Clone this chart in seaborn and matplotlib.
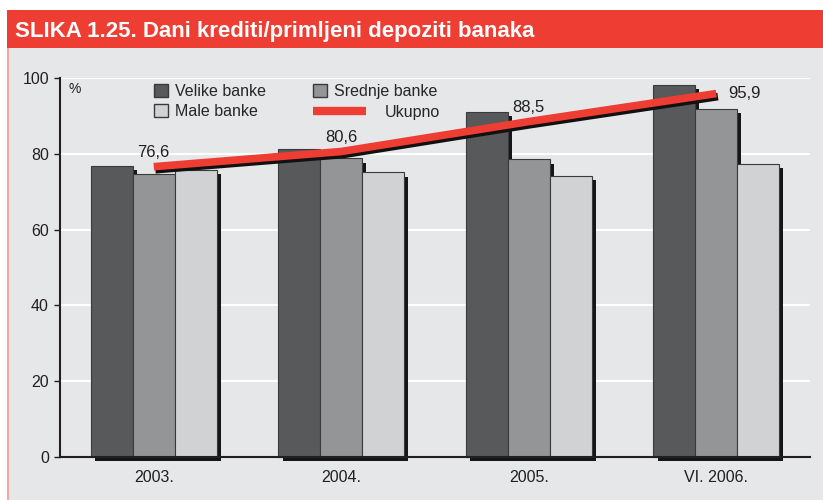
import numpy as np
import pandas as pd
import matplotlib.pyplot as plt
import matplotlib.patheffects as pe
from matplotlib.patches import Patch, Rectangle
from matplotlib.lines import Line2D
import seaborn as sns

# podaci
godine = ['2003.', '2004.', '2005.', 'VI. 2006.']
velike = [76.8, 81.2, 91.1, 98.2]
srednje = [74.7, 78.8, 78.5, 91.8]
male = [75.7, 75.1, 74.1, 77.4]
ukupno = [76.6, 80.6, 88.5, 95.9]
ukupno_lbl = ['76,6', '80,6', '88,5', '95,9']

grupe = ['Velike banke', 'Srednje banke', 'Male banke']
boje = ['#58595b', '#939598', '#d1d2d4']
crvena = '#ee3d33'
pozadina = '#e6e7e8'

df = pd.DataFrame({
    'godina': godine * 3,
    'vrijednost': velike + srednje + male,
    'banke': [g for g in grupe for _ in godine],
})

sns.set_theme(style='white')
plt.rcParams['font.family'] = ['Liberation Sans', 'DejaVu Sans']

fig = plt.figure(figsize=(8.23, 5.0), dpi=100)
fig.patch.set_facecolor('white')

# okvir i naslovna traka
fig.patches.append(Rectangle((8 / 823, 0), 1, 452 / 500, transform=fig.transFigure,
                             facecolor=pozadina, edgecolor='none', zorder=-10))
fig.patches.append(Rectangle((7 / 823, 0), 1.5 / 823, 452 / 500, transform=fig.transFigure,
                             facecolor='#f4a59f', edgecolor='none', zorder=-10))
fig.patches.append(Rectangle((7 / 823, 452 / 500), 1, 38 / 500, transform=fig.transFigure,
                             facecolor=crvena, edgecolor='none', zorder=-10))
fig.text(15 / 823, 468 / 500, 'SLIKA 1.25. Dani krediti/primljeni depoziti banaka',
         color='white', fontsize=16, fontweight='bold', va='center', ha='left',
         family=['Liberation Sans Narrow', 'Liberation Sans', 'DejaVu Sans'])

ax = fig.add_axes([60 / 823, 43 / 500, 750 / 823, 379 / 500])
ax.set_facecolor(pozadina)
ax.patch.set_alpha(0)

sns.barplot(data=df, x='godina', y='vrijednost', hue='banke', hue_order=grupe,
            palette=boje, width=0.67, gap=0, edgecolor='#3a3a3a', linewidth=0.8,
            ax=ax, legend=False, zorder=3)

sjena = [pe.SimplePatchShadow(offset=(3, -3), shadow_rgbFace='#161616', alpha=1.0), pe.Normal()]
for p in ax.patches:
    p.set_path_effects(sjena)
    p.set_clip_on(False)

x = np.arange(len(godine))
sns.lineplot(x=x, y=ukupno, color=crvena, linewidth=5.5, ax=ax, legend=False, zorder=5)
linija = ax.lines[-1]
linija.set_solid_capstyle('butt')
linija.set_path_effects([pe.SimpleLineShadow(offset=(1.2, -2.2), shadow_color='#111111', alpha=1.0),
                         pe.Normal()])

pomaci = [(0, 5), (0, 5), (0, 5), (20, 0)]
for xi, yi, t, off in zip(x, ukupno, ukupno_lbl, pomaci):
    ax.annotate(t, (xi, yi), xytext=off, textcoords='offset points',
                ha='center', va='bottom' if off[1] else 'center',
                fontsize=12, color='#231f20', zorder=6)

ax.set_xlim(-0.5, 3.5)
ax.set_ylim(0, 100)
ax.set_yticks(range(0, 101, 20))
ax.set_xlabel('')
ax.set_ylabel('')
for y in range(20, 101, 20):
    ax.axhline(y, color='white', linewidth=1.5, zorder=1)

for s in ['top', 'right']:
    ax.spines[s].set_visible(False)
for s in ['left', 'bottom']:
    ax.spines[s].set_color('#231f20')
    ax.spines[s].set_linewidth(1.5)
    ax.spines[s].set_zorder(4)

ax.set_xticks(np.arange(-0.5, 3.6, 1), minor=True)
ax.tick_params(axis='x', which='major', length=0, pad=9, labelsize=11, labelcolor='#231f20')
ax.tick_params(axis='x', which='minor', length=8, width=1, color='#231f20', direction='out')
ax.tick_params(axis='y', length=4, width=1, color='#231f20', direction='out',
               left=True, labelsize=11, labelcolor='#231f20', pad=4)
for lb in ax.get_xticklabels() + ax.get_yticklabels():
    lb.set_family(['Liberation Sans Narrow', 'Liberation Sans', 'DejaVu Sans'])
    lb.set_fontsize(11.5)

ax.text(0.012, 0.99, '%', transform=ax.transAxes, fontsize=10, va='top', color='#231f20')

# legenda
ruke = [Patch(facecolor=boje[0], edgecolor='#3a3a3a', label=grupe[0]),
        Patch(facecolor=boje[2], edgecolor='#3a3a3a', label=grupe[2]),
        Patch(facecolor=boje[1], edgecolor='#3a3a3a', label=grupe[1])]
leg1 = ax.legend(handles=ruke, ncol=2, loc='upper left', bbox_to_anchor=(0.125, 0.985),
                 frameon=False, fontsize=11.5, handlelength=0.9, handleheight=0.9,
                 handletextpad=0.45, columnspacing=2.9, labelspacing=0.33, borderpad=0,
                 borderaxespad=0)
ax.add_artist(leg1)
ax.legend(handles=[Line2D([], [], color=crvena, linewidth=6, solid_capstyle='butt', label='Ukupno')],
          loc='upper left', bbox_to_anchor=(0.338, 0.93), frameon=False, fontsize=11.5,
          handlelength=3.3, handletextpad=1.15, borderpad=0, borderaxespad=0)

fig.savefig('out.png', dpi=100, facecolor=fig.get_facecolor())
